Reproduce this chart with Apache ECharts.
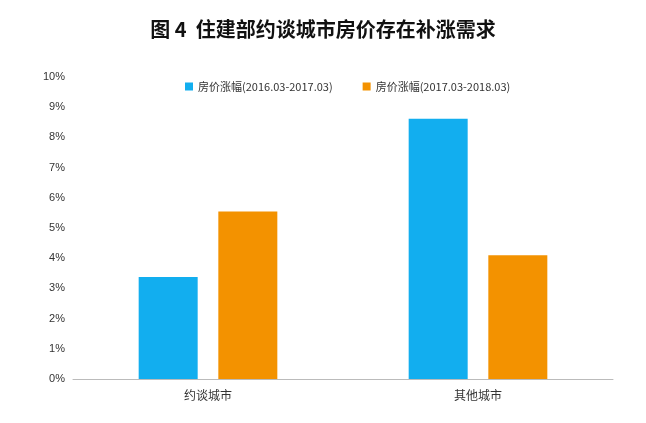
<!DOCTYPE html>
<html><head><meta charset="utf-8">
<script src="https://cdn.jsdelivr.net/npm/echarts@6/dist/echarts.min.js"></script>
<style>html,body{margin:0;padding:0;background:#fff}#c{width:646px;height:423px}</style>
</head><body><div id="c"></div>
<script>
const categories = ['约谈城市', '其他城市'];
const series1Name = '房价涨幅(2016.03-2017.03)';
const series2Name = '房价涨幅(2017.03-2018.03)';
const series1 = [3.38, 8.62];
const series2 = [5.55, 4.1];
const chart = echarts.init(document.getElementById('c'));
chart.setOption({
  animation: false,
  title: {text: '图 4  住建部约谈城市房价存在补涨需求', left: 'center', top: 14,
    textStyle: {fontSize: 20, fontWeight: 'bold', color: '#111', fontFamily: 'Noto Sans CJK SC'}},
  legend: {top: 76, left: 180, itemWidth: 8, itemHeight: 8, itemGap: 30,
    textStyle: {fontSize: 11, color: '#333', fontFamily: 'Noto Sans CJK SC'},
    data: [{name: series1Name, icon: 'rect'}, {name: series2Name, icon: 'rect'}]},
  grid: {left: 73, right: 33, top: 77, bottom: 44},
  xAxis: {type: 'category', data: categories,
    axisLine: {lineStyle: {color: '#bbb'}}, axisTick: {show: false},
    axisLabel: {fontSize: 12, color: '#333', margin: 10, fontFamily: 'Noto Sans CJK SC'}},
  yAxis: {type: 'value', min: 0, max: 10, interval: 1,
    axisLabel: {formatter: '{value}%', fontSize: 11, color: '#333'},
    splitLine: {show: false}, axisLine: {show: false}},
  series: [
    {name: series1Name, type: 'bar', data: series1, barWidth: 59, barGap: '35%', itemStyle: {color: '#12AEEF'}},
    {name: series2Name, type: 'bar', data: series2, barWidth: 59, itemStyle: {color: '#F39200'}}
  ]
});
</script></body></html>
